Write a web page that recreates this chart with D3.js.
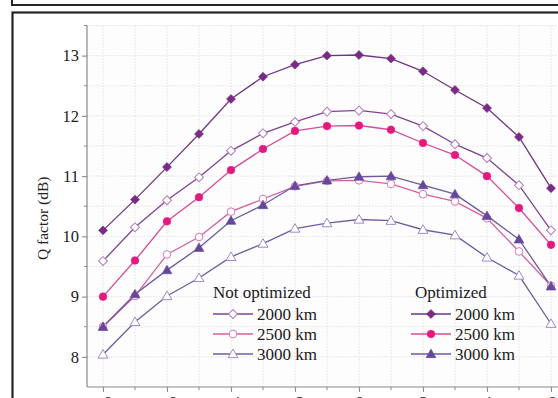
<!DOCTYPE html>
<html><head><meta charset="utf-8">
<script src="https://cdn.jsdelivr.net/npm/d3@7/dist/d3.min.js"></script>
<style>
html,body{margin:0;padding:0;background:#fff;overflow:hidden}
svg{display:block}
svg text{font-family:"Liberation Serif","Times New Roman",serif !important}
</style></head><body>
<svg id="c" width="558" height="398"></svg>
<script>
const xValues = [-8,-7,-6,-5,-4,-3,-2,-1,0,1,2,3,4,5,6];
const xTickValues = [-8,-6,-4,-2,0,2,4,6];
const yTickValues = [8,9,10,11,12,13];
const notOpt2000 = [9.59,10.15,10.60,10.98,11.42,11.71,11.90,12.07,12.09,12.03,11.83,11.53,11.30,10.85,10.10];
const notOpt2500 = [8.50,9.01,9.70,9.99,10.41,10.62,10.83,10.92,10.93,10.87,10.70,10.58,10.30,9.75,9.18];
const notOpt3000 = [8.04,8.58,9.01,9.31,9.66,9.88,10.13,10.22,10.28,10.26,10.11,10.02,9.65,9.35,8.55];
const opt2000 = [10.10,10.61,11.15,11.70,12.28,12.65,12.85,13.00,13.01,12.95,12.74,12.43,12.13,11.65,10.80];
const opt2500 = [9.00,9.60,10.25,10.65,11.10,11.45,11.75,11.83,11.84,11.77,11.55,11.35,11.00,10.47,9.86];
const opt3000 = [8.50,9.04,9.44,9.81,10.26,10.52,10.84,10.93,10.99,11.00,10.85,10.70,10.34,9.95,9.17];
const seriesLabels = ["2000 km","2500 km","3000 km"];
const yLabel = "Q factor (dB)";

const series = [
  {vals:notOpt2000, sym:"diamond", fill:"#fff", stroke:"#b07cbc", line:"#7d4590"},
  {vals:notOpt2500, sym:"circle", fill:"#fff", stroke:"#d77ab0", line:"#d4609f"},
  {vals:notOpt3000, sym:"triangle", fill:"#fff", stroke:"#9d8cc4", line:"#6f5c9e"},
  {vals:opt2000, sym:"diamond", fill:"#7a2b86", stroke:"#7a2b86", line:"#6c3680"},
  {vals:opt2500, sym:"circle", fill:"#e5187f", stroke:"#e5187f", line:"#d94a97"},
  {vals:opt3000, sym:"triangle", fill:"#65489c", stroke:"#65489c", line:"#6e5a9e"}
];

const svg = d3.select("#c");
const x = d3.scaleLinear().domain([-8.5,6.5]).range([87,567]);
const y = d3.scaleLinear().domain([7.5,13.5]).range([387,25.5]);

// frames
svg.append("rect").attr("x",12).attr("y",-20).attr("width",600).attr("height",25)
  .attr("fill","none").attr("stroke","#262626").attr("stroke-width",2);
svg.append("rect").attr("x",12.5).attr("y",12.5).attr("width",600).attr("height",420)
  .attr("fill","#fff").attr("stroke","#262626").attr("stroke-width",2.2);

// plot bg
svg.append("rect").attr("x",x(-8.5)).attr("y",y(13.5)).attr("width",x(6.5)-x(-8.5)).attr("height",y(7.5)-y(13.5)).attr("fill","#fdfdfd");

// grid
const g = svg.append("g");
g.selectAll("line.vg").data(d3.range(-8,7,1)).join("line")
  .attr("x1",d=>x(d)).attr("x2",d=>x(d)).attr("y1",y(13.5)).attr("y2",y(7.5))
  .attr("stroke","#dcdcdc").attr("stroke-width",0.8).attr("stroke-dasharray","1.5,1.5");
g.selectAll("line.hg").data(d3.range(8,13.51,0.5)).join("line")
  .attr("y1",d=>y(d)).attr("y2",d=>y(d)).attr("x1",x(-8.5)).attr("x2",x(6.5))
  .attr("stroke","#dcdcdc").attr("stroke-width",0.8).attr("stroke-dasharray","1.5,1.5");

// axes
const yAxis = d3.axisLeft(y).tickValues(yTickValues).tickSize(5).tickPadding(3).tickFormat(d3.format("d"));
const ya = svg.append("g").attr("transform",`translate(${x(-8.5)},0)`).call(yAxis);
ya.attr("font-family",null);
ya.select(".domain").attr("stroke","#8a8a8a").attr("stroke-width",1.2).attr("d",`M0,${y(13.5)}V${y(7.5)}`);
ya.selectAll(".tick line").attr("stroke","#8a8a8a").attr("stroke-width",1.1);
ya.selectAll(".tick text").attr("font-size",16.5).attr("fill","#222");
svg.append("g").selectAll("line").data(d3.range(8.5,13.51,1)).join("line")
  .attr("x1",x(-8.5)-3).attr("x2",x(-8.5)).attr("y1",d=>y(d)).attr("y2",d=>y(d)).attr("stroke","#8a8a8a");

const xAxis = d3.axisBottom(x).tickValues(xTickValues).tickSize(5).tickPadding(4).tickFormat(d=>d<0?"\u2212"+(-d):d);
const xa = svg.append("g").attr("transform",`translate(0,${y(7.5)})`).call(xAxis);
xa.attr("font-family",null);
xa.select(".domain").attr("stroke","#8a8a8a").attr("stroke-width",1.2).attr("d",`M${x(-8.5)},0H${x(6.5)}`);
xa.selectAll(".tick line").attr("stroke","#8a8a8a").attr("stroke-width",1.1);
xa.selectAll(".tick text").attr("font-size",16.5).attr("fill","#222");
svg.append("g").selectAll("line").data(d3.range(-7,7,2)).join("line")
  .attr("x1",d=>x(d)).attr("x2",d=>x(d)).attr("y1",y(7.5)).attr("y2",y(7.5)+3).attr("stroke","#8a8a8a");

svg.append("text").attr("transform",`translate(48,${(y(13.5)+y(7.5))/2+12}) rotate(-90)`)
  .attr("text-anchor","middle").attr("font-size",15.5).attr("fill","#222").text(yLabel);

// symbols
function symPath(s){
  if(s==="diamond") return d3.symbol(d3.symbolSquare,40)();
  if(s==="circle") return d3.symbol(d3.symbolCircle,46)();
  return d3.symbol(d3.symbolTriangle,42)();
}
function drawSym(sel,s,cx,cy){
  return sel.append("path").attr("d",symPath(s.sym))
    .attr("transform",`translate(${cx},${cy})`+(s.sym==="diamond"?" rotate(45)":(s.sym==="triangle"?" translate(0,0.8)":"")))
    .attr("fill",s.fill).attr("stroke",s.stroke).attr("stroke-width",s.fill==="#fff"?1:0.6);
}
const line = d3.line().x((d,i)=>x(xValues[i])).y(d=>y(d));
series.forEach(s=>{
  svg.append("path").attr("d",line(s.vals)).attr("fill","none").attr("stroke",s.line).attr("stroke-width",1.3);
});
series.forEach(s=>{
  const gg = svg.append("g");
  s.vals.forEach((v,i)=>drawSym(gg,s,x(xValues[i]),y(v)));
});

// legend
const leg = svg.append("g").attr("font-size",17).attr("fill","#1a1a1a");
leg.append("text").attr("x",213).attr("y",298).text("Not optimized");
leg.append("text").attr("x",415).attr("y",298).text("Optimized");
[[0,213],[3,411]].forEach(([off,lx])=>{
  for(let k=0;k<3;k++){
    const s = series[off+k];
    const ly = 314 + k*20;
    leg.append("line").attr("x1",lx).attr("x2",lx+40).attr("y1",ly).attr("y2",ly).attr("stroke",s.line).attr("stroke-width",1.3);
    drawSym(leg,s,lx+20,ly);
    leg.append("text").attr("x",lx+44).attr("y",ly+6).text(seriesLabels[k]);
  }
});
</script></body></html>
